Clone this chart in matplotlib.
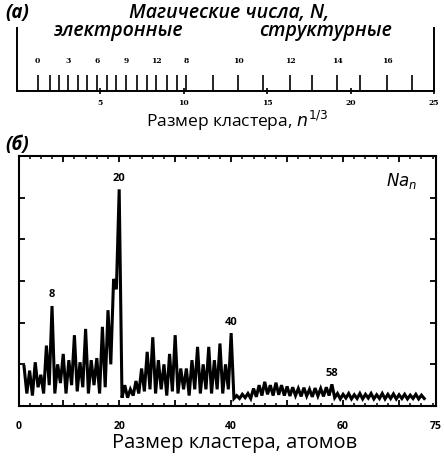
import matplotlib
matplotlib.use("Agg")
import matplotlib.pyplot as plt
from matplotlib.ticker import FixedLocator, MultipleLocator

plt.rcParams["font.family"] = ["Open Sans", "DejaVu Sans"]

# panel (а): shell closings on the n^(1/3) scale
electronic_shells = [1.24, 1.98, 2.54, 3.08, 3.68, 4.21, 4.81, 5.38, 5.92,
                     6.53, 7.18, 7.78, 8.33, 8.97, 9.57]
electronic_labels = ["0", "3", "6", "9", "12"]          # every third shell
structural_shells = [10.13, 11.75, 13.25, 14.75, 16.37, 17.69, 19.18,
                     20.56, 22.18, 23.68]
structural_labels = ["8", "10", "12", "14", "16"]       # every second shell
scale_ticks = [5, 10, 15, 20, 25]

# panel (б): Na_n mass spectrum, one peak per cluster size (arb. units)
cluster_sizes = list(range(3, 75))
peak_heights = [
    0.95, 0.85, 1.05, 0.75, 1.45, 2.40, 1.00, 1.25, 1.10, 1.70,   # 3-12
    1.05, 1.85, 1.10, 1.15, 1.90, 2.30, 3.05, 5.20, 0.50, 0.40,   # 13-22
    0.60, 0.90, 1.30, 1.65, 1.10, 1.00, 1.25, 1.70, 0.90, 0.90,   # 23-32
    1.10, 1.42, 1.00, 1.42, 1.10, 1.50, 1.00, 1.75, 0.25, 0.28,   # 33-42
    0.30, 0.42, 0.50, 0.58, 0.50, 0.56, 0.50, 0.47, 0.45, 0.42,   # 43-52
    0.44, 0.40, 0.43, 0.42, 0.45, 0.52, 0.30, 0.28, 0.30, 0.27,   # 53-62
    0.30, 0.28, 0.30, 0.27, 0.30, 0.28, 0.29, 0.27, 0.28, 0.26,   # 63-72
    0.28, 0.26,                                                   # 73-74
]
valley_heights = [
    0.30, 0.25, 0.45, 0.30, 0.50, 0.30, 0.55, 0.30, 0.50, 0.35,
    0.45, 0.30, 0.50, 0.30, 0.45, 1.00, 2.80, 0.20, 0.20, 0.25,
    0.30, 0.35, 0.40, 0.30, 0.40, 0.25, 0.35, 0.30, 0.40, 0.25,
    0.40, 0.30, 0.40, 0.30, 0.40, 0.30, 0.40, 0.18, 0.18, 0.20,
    0.18, 0.22, 0.25, 0.28, 0.25, 0.27, 0.25, 0.24, 0.25, 0.23,
    0.24, 0.22, 0.24, 0.23, 0.25, 0.20, 0.17, 0.19, 0.17, 0.18,
    0.17, 0.19, 0.17, 0.18, 0.17, 0.18, 0.17, 0.18, 0.17, 0.18,
    0.17, 0.18,
]
labeled_peaks = [8, 20, 40, 58]

W, H = 444, 457
fig = plt.figure(figsize=(W / 100, H / 100), dpi=100)


def box(left, top, right, bottom):
    return [left / W, 1 - bottom / H, (right - left) / W, (bottom - top) / H]


# ---------------- panel (а) ----------------
ax_a = fig.add_axes(box(17, 28, 434, 91))
ax_a.set_xlim(0, 25)
ax_a.set_ylim(0, 1)
ax_a.spines["top"].set_visible(False)
for s in ("left", "right", "bottom"):
    ax_a.spines[s].set_linewidth(1.4)
ax_a.set_yticks([])
ax_a.set_xticks(scale_ticks)
ax_a.set_xticklabels([str(t) for t in scale_ticks], fontsize=5.5, fontweight="bold",
                     family="DejaVu Serif")
ax_a.tick_params(axis="x", direction="inout", length=4, width=1.2, pad=4)

spike_top = 0.25
ax_a.vlines(electronic_shells + structural_shells, 0, spike_top, color="black", lw=1.2)
for pos, lab in zip(electronic_shells[::3], electronic_labels):
    ax_a.text(pos, 0.48, lab, ha="center", va="center", fontsize=5.5,
              fontweight="bold", family="DejaVu Serif")
for pos, lab in zip(structural_shells[::2], structural_labels):
    ax_a.text(pos, 0.48, lab, ha="center", va="center", fontsize=5.5,
              fontweight="bold", family="DejaVu Serif")

title_kw = dict(fontsize=14, style="italic", fontweight="semibold",
                va="center", ha="center")
fig.text(5 / W, 1 - 13 / H, "(а)", fontsize=13.5, fontweight="bold", style="italic",
         va="center", ha="left")
fig.text(229 / W, 1 - 13 / H, "Магические числа, N,", **title_kw)
fig.text(119 / W, 1 - 31 / H, "электронные", **title_kw)
fig.text(326 / W, 1 - 31 / H, "структурные", **title_kw)
fig.text(237 / W, 1 - 121 / H, "Размер кластера, $n^{1/3}$", fontsize=12.5,
         va="center", ha="center")

# ---------------- panel (б) ----------------
ax_b = fig.add_axes(box(19, 156, 436, 406))
x_pts, y_pts = [], []
for n, hp, hv in zip(cluster_sizes, peak_heights, valley_heights):
    x_pts += [n, n + 0.5]
    y_pts += [hp, hv]
ax_b.plot(x_pts, y_pts, color="black", lw=2.2, solid_joinstyle="miter")

for n in labeled_peaks:
    h = peak_heights[cluster_sizes.index(n)]
    ax_b.annotate(str(n), (n, h), xytext=(0, 4), textcoords="offset points",
                  ha="center", va="bottom", fontsize=8, fontweight="bold")

# the printed axis carries "0" and "75" at its ends while the peaks sit at their true n
x_left, x_right = 2.1, 76.6
ax_b.set_xlim(x_left, x_right)
ax_b.set_ylim(0, 6)
major_x = [x_left, 10, 20, 30, 40, 50, 60, 70, x_right]
ax_b.xaxis.set_major_locator(FixedLocator(major_x))
ax_b.set_xticklabels(["0", "", "20", "", "40", "", "60", "", "75"], fontsize=7.5,
                     fontweight="bold")
ax_b.xaxis.set_minor_locator(MultipleLocator(2))
ax_b.set_yticks([1, 2, 3, 4, 5])
ax_b.set_yticklabels([])
ax_b.tick_params(axis="both", which="major", direction="in", length=4, width=1.3,
                 top=True, right=True, pad=11)
ax_b.tick_params(axis="x", which="minor", direction="in", length=2.5, width=1.1,
                 top=True)
for s in ax_b.spines.values():
    s.set_linewidth(1.5)

ax_b.text(0.955, 0.9, "$\\mathit{Na}_{\\mathit{n}}$", transform=ax_b.transAxes,
          fontsize=12, ha="right", va="center")

fig.text(5 / W, 1 - 145 / H, "(б)", fontsize=13.5, fontweight="bold", style="italic",
         va="center", ha="left")
fig.text(235 / W, 1 - 443 / H, "Размер кластера, атомов", fontsize=14.5,
         va="center", ha="center")

fig.savefig("out.png", dpi=100)
